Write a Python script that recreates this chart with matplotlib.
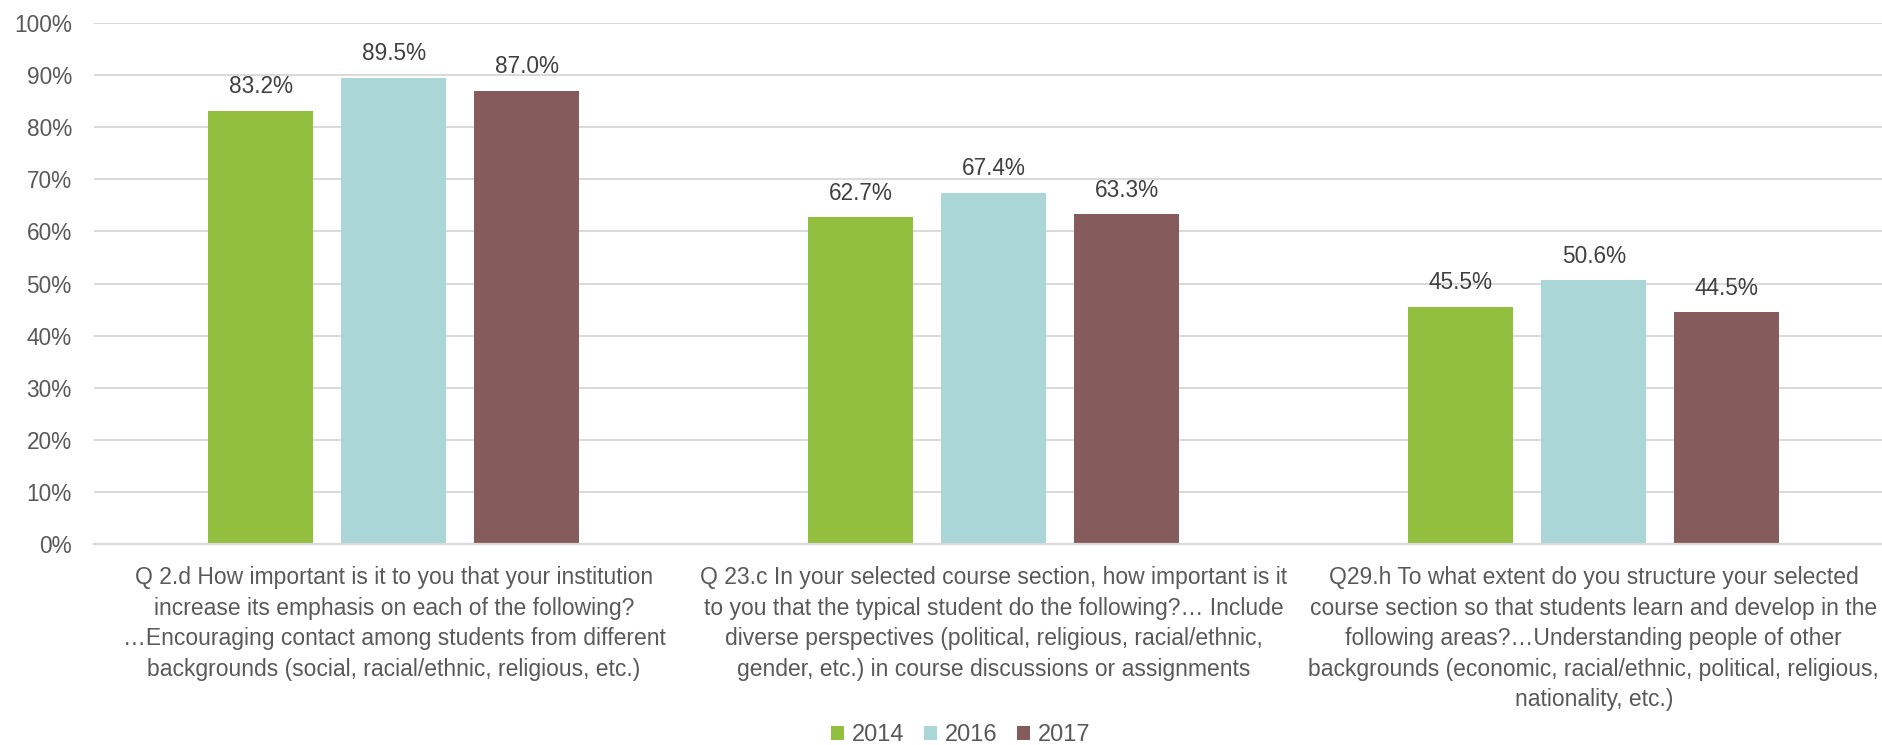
import matplotlib
matplotlib.use("Agg")
import matplotlib.pyplot as plt
from matplotlib.patches import Patch
import numpy as np

categories = [
    "Q 2.d How important is it to you that your institution\nincrease its emphasis on each of the following?\n\u2026Encouraging contact among students from different\nbackgrounds (social, racial/ethnic, religious, etc.)",
    "Q 23.c In your selected course section, how important is it\nto you that the typical student do the following?\u2026 Include\ndiverse perspectives (political, religious, racial/ethnic,\ngender, etc.) in course discussions or assignments",
    "Q29.h To what extent do you structure your selected\ncourse section so that students learn and develop in the\nfollowing areas?\u2026Understanding people of other\nbackgrounds (economic, racial/ethnic, political, religious,\nnationality, etc.)",
]
series_names = ["2014", "2016", "2017"]
values_2014 = [83.2, 62.7, 45.5]
values_2016 = [89.5, 67.4, 50.6]
values_2017 = [87.0, 63.3, 44.5]
y_ticks = [0, 10, 20, 30, 40, 50, 60, 70, 80, 90, 100]
y_tick_labels = [f"{t}%" for t in y_ticks]

colors = ["#93BF3F", "#AAD6D7", "#855C5B"]
W, H = 1883, 745
fig = plt.figure(figsize=(W / 100, H / 100), dpi=100)
ax = fig.add_axes([94 / W, 201 / H, 1789 / W, 521 / H])

x = np.arange(len(categories))
bw = 0.175
step = 0.2217
all_vals = [values_2014, values_2016, values_2017]
for i, (vals, c, name) in enumerate(zip(all_vals, colors, series_names)):
    bars = ax.bar(x + (i - 1) * step, vals, width=bw, color=c, label=name, zorder=3)
    ax.bar_label(bars, labels=[f"{v:.1f}%" for v in vals], padding=9,
                 fontsize=16.3, color="#404040", family="Liberation Sans")

ax.set_xlim(-0.5, 2.482)
ax.set_ylim(0, 100)
ax.set_yticks(y_ticks)
ax.set_yticklabels(y_tick_labels, fontsize=16.3, color="#595959", family="Liberation Sans")
ax.tick_params(axis="y", length=0, pad=16)
ax.set_xticks(x)
ax.set_xticklabels(categories, fontsize=16.5, color="#595959",
                   family=["Liberation Sans Narrow", "Liberation Sans"], linespacing=1.42)
ax.tick_params(axis="x", length=0, pad=16)
ax.yaxis.grid(True, color="#D9D9D9", linewidth=1.4, zorder=0)
for s in ["top", "right", "left"]:
    ax.spines[s].set_visible(False)
ax.spines["bottom"].set_color("#D9D9D9")
ax.spines["bottom"].set_linewidth(1.6)
ax.spines["bottom"].set_zorder(4)

handles = [Patch(facecolor=c, edgecolor="none") for c in colors]
fig.legend(handles, series_names, loc="center", bbox_to_anchor=(961 / W, 1 - 735 / H),
           ncol=3, frameon=False, handlelength=0.55, handleheight=0.55,
           handletextpad=0.34, columnspacing=0.83, labelcolor="#595959",
           prop={"family": "Liberation Sans", "size": 17})

fig.savefig("out.png", dpi=100)
